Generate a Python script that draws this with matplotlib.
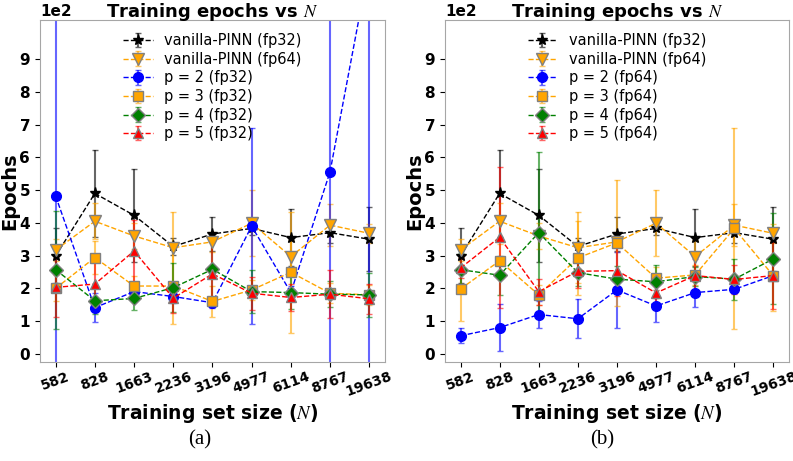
import numpy as np
import matplotlib
matplotlib.use("Agg")
import matplotlib.pyplot as plt

plt.rcParams["mathtext.fontset"] = "stix"

# training set sizes (categorical x axis)
N_LABELS = ["582", "828", "1663", "2236", "3196", "4977", "6114", "8767", "19638"]
SCALE = 100  # values below are in units of 1e2 epochs

# shared baselines (same in both panels)
vanilla32 = [2.99, 4.90, 4.23, 3.28, 3.66, 3.83, 3.55, 3.70, 3.50]
vanilla32_err = [0.84, 1.34, 1.43, 0.25, 0.53, 0.20, 0.86, 0.30, 0.97]
vanilla64 = [3.17, 4.05, 3.60, 3.24, 3.42, 3.99, 2.97, 3.93, 3.68]
vanilla64_err = [0.35, 0.55, 0.40, 1.08, 0.30, 1.00, 0.50, 0.65, 0.30]

# panel (a): fp32
p2_32 = [4.82, 1.41, 1.90, 1.75, 1.56, 3.90, 1.87, 5.56, 11.9]
p2_32_err = [6.0, 0.44, 0.15, 0.20, 0.15, 3.0, 0.20, 7.0, 13.0]
p3_32 = [2.00, 2.94, 2.07, 2.07, 1.60, 1.95, 2.49, 1.85, 1.80]
p3_32_err = [0.40, 0.50, 0.30, 1.17, 0.48, 0.30, 1.84, 0.30, 0.30]
p4_32 = [2.57, 1.62, 1.69, 2.02, 2.58, 1.90, 1.87, 1.82, 1.80]
p4_32_err = [1.80, 0.40, 0.35, 0.74, 1.00, 0.66, 0.50, 0.40, 0.68]
p5_32 = [2.03, 2.13, 3.14, 1.70, 2.44, 1.85, 1.72, 1.82, 1.68]
p5_32_err = [0.90, 0.85, 0.95, 0.45, 1.00, 0.50, 0.40, 0.74, 0.45]

# panel (b): fp64
p2_64 = [0.55, 0.80, 1.20, 1.07, 1.95, 1.46, 1.87, 1.97, 2.39]
p2_64_err = [0.23, 0.72, 0.40, 0.60, 1.15, 0.50, 0.43, 0.10, 0.10]
p3_64 = [1.98, 2.84, 1.80, 2.93, 3.39, 2.31, 2.41, 3.83, 2.38]
p3_64_err = [0.97, 0.50, 0.30, 1.12, 1.93, 0.35, 0.30, 3.07, 1.06]
p4_64 = [2.57, 2.40, 3.70, 2.48, 2.28, 2.20, 2.36, 2.28, 2.90]
p4_64_err = [0.50, 0.60, 2.47, 0.40, 0.40, 0.50, 0.30, 0.63, 1.39]
p5_64 = [2.62, 3.56, 1.90, 2.52, 2.54, 1.86, 2.39, 2.27, 2.39]
p5_64_err = [0.30, 2.15, 0.40, 0.50, 0.78, 0.40, 0.50, 0.45, 1.02]

STYLES = [
    # color, marker, markersize, edge
    ("black", "*", 8, "black"),
    ("orange", "v", 8, "gray"),
    ("blue", "o", 7, "blue"),
    ("orange", "s", 7, "gray"),
    ("green", "D", 7, "gray"),
    ("red", "^", 7, "gray"),
]


def draw(ax, series, labels):
    x = np.arange(len(N_LABELS))
    for (vals, errs), lab, (c, m, ms, ec) in zip(series, labels, STYLES):
        line, caps, bars = ax.errorbar(
            x, np.array(vals) * SCALE, yerr=np.array(errs) * SCALE,
            fmt="--", color=c, marker=m, markersize=ms, markeredgecolor=ec,
            lw=1, elinewidth=1.5, capsize=2, label=lab)
        for b in bars:
            b.set_alpha(0.6)
        for cp in caps:
            cp.set_alpha(0.6)
    ax.set_xticks(x)
    ax.set_xticklabels(N_LABELS, rotation=20, fontweight="bold", fontsize=10)
    ax.set_ylim(-25, 1020)
    ax.set_yticks(np.arange(0, 1000, 100))
    ax.ticklabel_format(axis="y", style="sci", scilimits=(2, 2))
    ax.yaxis.get_offset_text().set_fontweight("bold")
    ax.yaxis.get_offset_text().set_fontsize(11)
    for t in ax.get_yticklabels():
        t.set_fontweight("bold")
        t.set_fontsize(11)
    ax.tick_params(axis="x", pad=2)
    for s in ax.spines.values():
        s.set_color("0.65")
    ax.set_xlabel("Training set size ($N$)", fontweight="bold", fontsize=13.5, labelpad=2)
    ax.set_ylabel("Epochs", fontweight="bold", fontsize=14, labelpad=0)
    ax.legend(loc="upper center", frameon=False, fontsize=10.5, labelspacing=0.25,
              borderaxespad=0.5, handlelength=2.0)


fig = plt.figure(figsize=(7.93, 4.61), dpi=100)
ax1 = fig.add_axes([0.0504, 0.2148, 0.435, 0.742])
ax2 = fig.add_axes([0.561, 0.2148, 0.434, 0.742])

draw(ax1, [(vanilla32, vanilla32_err), (vanilla64, vanilla64_err), (p2_32, p2_32_err),
           (p3_32, p3_32_err), (p4_32, p4_32_err), (p5_32, p5_32_err)],
     ["vanilla-PINN (fp32)", "vanilla-PINN (fp64)", "p = 2 (fp32)",
      "p = 3 (fp32)", "p = 4 (fp32)", "p = 5 (fp32)"])
draw(ax2, [(vanilla32, vanilla32_err), (vanilla64, vanilla64_err), (p2_64, p2_64_err),
           (p3_64, p3_64_err), (p4_64, p4_64_err), (p5_64, p5_64_err)],
     ["vanilla-PINN (fp32)", "vanilla-PINN (fp64)", "p = 2 (fp64)",
      "p = 3 (fp64)", "p = 4 (fp64)", "p = 5 (fp64)"])

# titles placed from the top edge so they stay inside the canvas
for ax in (ax1, ax2):
    bb = ax.get_position()
    fig.text((bb.x0 + bb.x1) / 2, 0.997, "Training epochs vs $N$",
             fontweight="bold", fontsize=13, ha="center", va="top")

fig.text(0.252, 0.045, "(a)", family="Liberation Serif", fontsize=15, ha="center", va="center")
fig.text(0.760, 0.045, "(b)", family="Liberation Serif", fontsize=15, ha="center", va="center")

fig.savefig("out.png", dpi=100)
